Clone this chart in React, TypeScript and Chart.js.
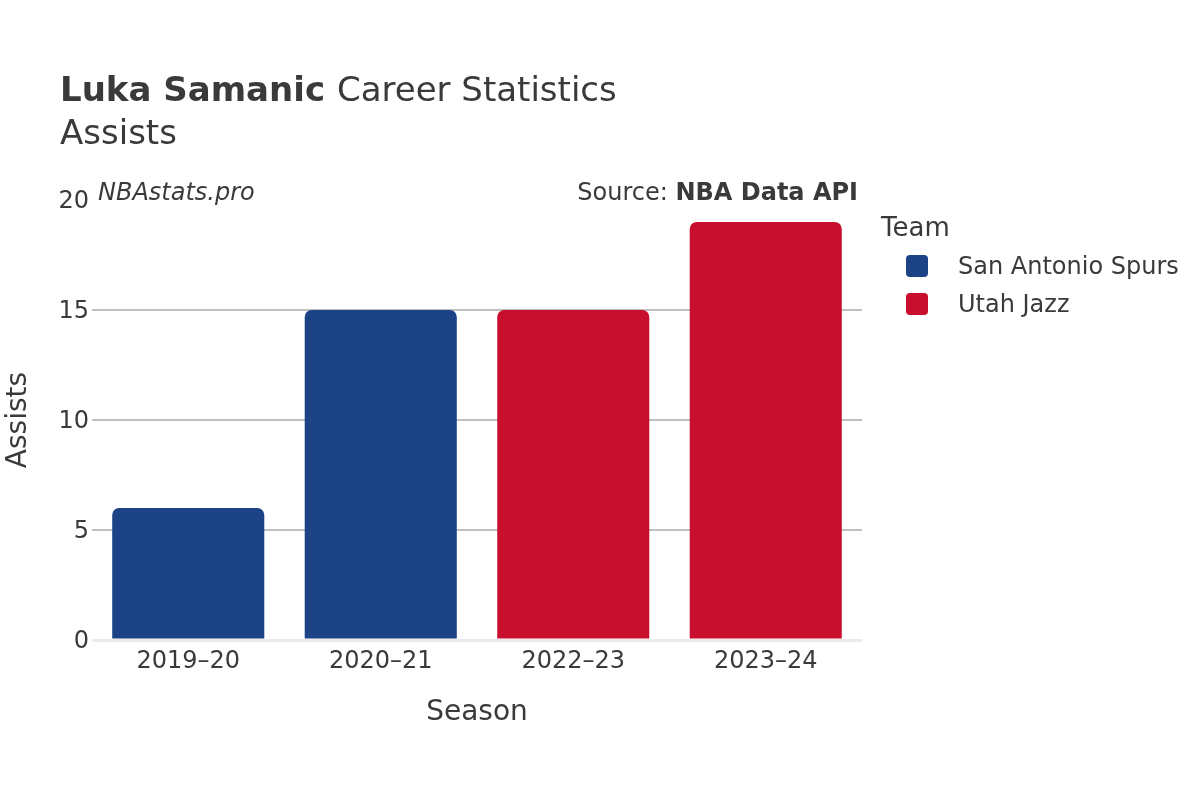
import React, { useEffect, useRef } from "react";
import { Chart, registerables } from "chart.js";

Chart.register(...registerables);

const seasons = ["2019–20", "2020–21", "2022–23", "2023–24"];
const teams = ["San Antonio Spurs", "Utah Jazz"];
const teamColors = ["#1b4386", "#c8102e"];
const spursAssists = [6, 15, null, null];
const jazzAssists = [null, null, 15, 19];
const yTicks = [0, 5, 10, 15, 20];

const FONT = "'DejaVu Sans', sans-serif";
const TEXT = "#3a3a3a";

const overlay = {
  id: "overlay",
  afterDraw(chart: any) {
    const ctx = chart.ctx;
    const area = chart.chartArea;
    ctx.save();
    ctx.fillStyle = TEXT;
    ctx.textBaseline = "alphabetic";
    ctx.textAlign = "left";
    // Title
    ctx.font = `bold 34px ${FONT}`;
    const bold = "Luka Samanic";
    ctx.fillText(bold, 60, 101);
    const bw = ctx.measureText(bold + " ").width;
    ctx.font = `34px ${FONT}`;
    ctx.fillText("Career Statistics", 60 + bw, 101);
    ctx.fillText("Assists", 60, 144);
    // watermark
    ctx.font = `italic 24px ${FONT}`;
    ctx.textBaseline = "middle";
    ctx.fillText("NBAstats.pro", 98, 194);
    // source
    ctx.textAlign = "right";
    ctx.font = `bold 24px ${FONT}`;
    const src = "NBA Data API";
    ctx.fillText(src, 858, 194);
    const sw = ctx.measureText(src).width;
    ctx.font = `24px ${FONT}`;
    ctx.fillText("Source: ", 858 - sw, 194);
    // axis titles
    ctx.textAlign = "center";
    ctx.font = `28px ${FONT}`;
    ctx.fillText("Season", (area.left + area.right) / 2, 713);
    ctx.save();
    ctx.translate(19, (area.top + area.bottom) / 2);
    ctx.rotate(-Math.PI / 2);
    ctx.fillText("Assists", 0, 0);
    ctx.restore();
    // legend
    ctx.textAlign = "left";
    ctx.font = `26px ${FONT}`;
    ctx.fillText("Team", 881, 229);
    ctx.font = `24px ${FONT}`;
    teams.forEach((t, i) => {
      const cy = 266 + i * 38;
      ctx.fillStyle = teamColors[i];
      ctx.beginPath();
      (ctx as any).roundRect(906, cy - 11, 22, 22, 4);
      ctx.fill();
      ctx.fillStyle = TEXT;
      ctx.fillText(t, 958, cy + 2);
    });
    ctx.restore();
  },
};

export default function App() {
  const ref = useRef<HTMLCanvasElement | null>(null);
  useEffect(() => {
    document.body.style.margin = "0";
    const canvas = ref.current!;
    const chart = new Chart(canvas, {
      type: "bar",
      data: {
        labels: seasons,
        datasets: [
          {
            label: teams[0],
            data: spursAssists,
            backgroundColor: teamColors[0],
            borderRadius: 7,
            borderSkipped: "start",
            categoryPercentage: 1,
            barPercentage: 0.79,
          },
          {
            label: teams[1],
            data: jazzAssists,
            backgroundColor: teamColors[1],
            borderRadius: 7,
            borderSkipped: "start",
            categoryPercentage: 1,
            barPercentage: 0.79,
          },
        ],
      },
      options: {
        animation: false,
        responsive: false,
        maintainAspectRatio: false,
        layout: { padding: { left: 0, right: 338, top: 200, bottom: 0 } },
        plugins: {
          legend: { display: false },
          title: { display: false },
          tooltip: { enabled: false },
        },
        scales: {
          x: {
            stacked: true,
            grid: { display: false, drawTicks: false },
            border: { display: false },
            ticks: {
              color: TEXT,
              font: { family: FONT, size: 24 },
              padding: 7,
              maxRotation: 0,
            },
            afterFit: (s: any) => {
              s.height = 160;
            },
          },
          y: {
            stacked: true,
            min: 0,
            max: 20,
            afterBuildTicks: (s: any) => {
              s.ticks = yTicks.map((v) => ({ value: v }));
            },
            grid: {
              drawTicks: false,
              color: (c: any) =>
                c.tick.value === 0
                  ? "#ebebeb"
                  : c.tick.value === 20
                  ? "rgba(0,0,0,0)"
                  : "#c0c0c0",
              lineWidth: (c: any) => (c.tick.value === 0 ? 3 : 2),
            },
            border: { display: false },
            ticks: {
              color: TEXT,
              font: { family: FONT, size: 24 },
              padding: 3,
              labelOffset: 2,
            },
            afterFit: (s: any) => {
              s.width = 92;
            },
          },
        },
      },
      plugins: [overlay],
    });
    return () => chart.destroy();
  }, []);
  return (
    <div style={{ position: "absolute", left: 0, top: 0, width: 1200, height: 800, background: "#fff" }}>
      <canvas ref={ref} width={1200} height={800} style={{ width: 1200, height: 800 }} />
    </div>
  );
}
